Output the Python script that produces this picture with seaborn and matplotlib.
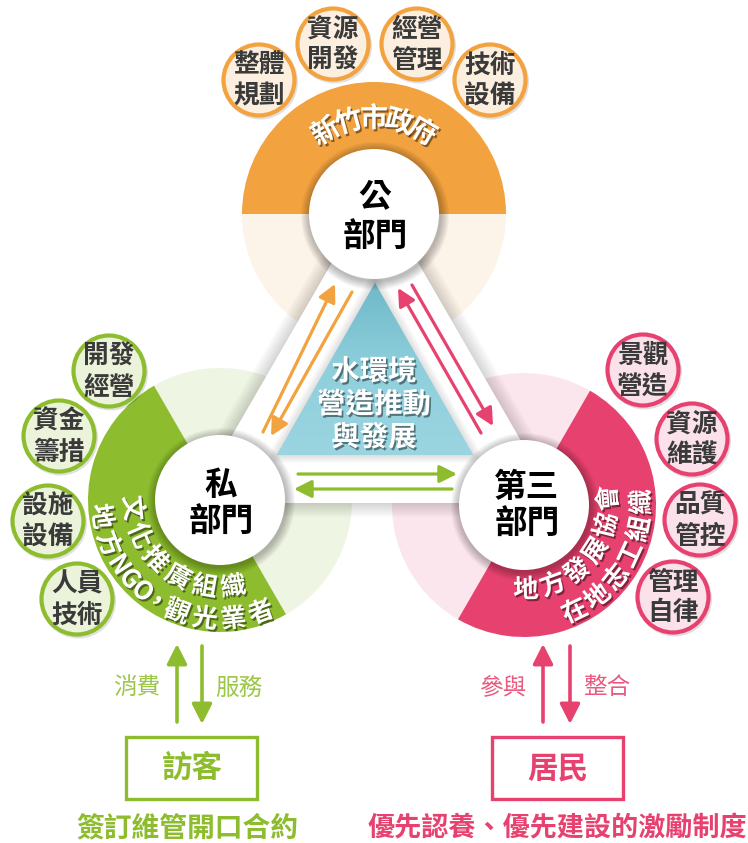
import matplotlib
matplotlib.use("Agg")
import matplotlib.pyplot as plt
import matplotlib.patheffects as pe
from matplotlib.patches import Circle, Wedge, Polygon, Rectangle
from matplotlib.colors import LinearSegmentedColormap
import numpy as np
import seaborn as sns

# ---- chart content ----
hub_lines = [["公", "部門"], ["私", "部門"], ["第三", "部門"]]
ring_labels = [["新竹市政府"],
               ["文化推廣組織", "地方NGO，觀光業者"],
               ["地方發展協會", "在地志工組織"]]
public_tasks = ["整體\n規劃", "資源\n開發", "經營\n管理", "技術\n設備"]
private_tasks = ["開發\n經營", "資金\n籌措", "設施\n設備", "人員\n技術"]
third_tasks = ["景觀\n營造", "資源\n維護", "品質\n管控", "管理\n自律"]
core_label = ["水環境", "營造推動", "與發展"]
visitor_flow = ["消費", "服務"]
resident_flow = ["參與", "整合"]
partners = ["訪客", "居民"]
partner_notes = ["簽訂維管開口合約", "優先認養、優先建設的激勵制度"]

sns.set_theme(style="white")
plt.rcParams["font.family"] = ["Noto Sans CJK TC", "DejaVu Sans"]

colors = sns.color_palette(["#f2a23e", "#8dbd2e", "#e7426f"])
pales = ["#fcf3e9", "#eff5e3", "#fce6ee"]
chip_fill = ["#fcefdf", "#ebf3da", "#fbe2ea"]
soft = ["#f5b86a", "#9cc64a", "#ea5a80"]
ink = "#3a3a3a"

fig = plt.figure(figsize=(7.48, 8.43), dpi=100)
ax = fig.add_axes([0, 0, 1, 1])

hubs = [(374, 214), (220, 500), (524, 505)]
starts = [0, 120, 240]
R_IN, R_OUT = 65, 132


def pt(c, r, a):
    return c[0] + r * np.cos(np.radians(a)), c[1] - r * np.sin(np.radians(a))


def wedge(c, r, a1, a2, **kw):
    # screen angles (ccw) -> data angles, y axis is flipped
    return Wedge(c, r, -a2, -a1, **kw)


shadow = [pe.withSimplePatchShadow(offset=(1.2, -1.5), shadow_rgbFace="black", alpha=0.45)]


def arc_text(c, text, r, a0, a1, inward, size):
    w = np.array([0.62 if ord(ch) < 128 else (0.6 if ch == "，" else 1.0) for ch in text])
    pos = np.cumsum(w) - w / 2
    for ch, p in zip(text, pos):
        a = a0 + (a1 - a0) * p / w.sum()
        x, y = pt(c, r, a)
        rot = a + 90 if inward else a - 90
        ax.text(x, y, ch, rotation=rot, rotation_mode="anchor", ha="center", va="center",
                fontsize=size, fontweight="bold", color="white", zorder=9, path_effects=shadow)


def arrow(tail, head, col, lw=2.3, ms=14):
    ax.annotate("", xy=head, xytext=tail, zorder=6,
                arrowprops=dict(arrowstyle="-|>,head_length=0.75,head_width=0.38", lw=lw,
                                color=col, shrinkA=0, shrinkB=0, mutation_scale=ms))


# rings: coloured half + pale half
for c, s, col, pale in zip(hubs, starts, colors, pales):
    ax.add_patch(wedge(c, R_OUT, s + 180, s + 360, fc=pale, ec="none", zorder=1))
    ax.add_patch(wedge(c, R_OUT, s, s + 180, fc=col, ec="none", zorder=1))

# white frame triangle with soft shadow
outer = [(375, 188), (193, 503), (557, 503)]
for w in range(2, 22, 3):
    ax.add_patch(Polygon(outer, closed=True, fc="none", ec="black", lw=w, alpha=0.025,
                         joinstyle="round", zorder=2))
ax.add_patch(Polygon(outer, closed=True, fc="white", ec="none", zorder=3))

# teal core triangle with gradient
inner = [(375, 283), (277, 455), (473, 455)]
for w in range(2, 12, 3):
    ax.add_patch(Polygon(inner, closed=True, fc="none", ec="black", lw=w, alpha=0.03,
                         joinstyle="round", zorder=3.5))
tri = Polygon(inner, closed=True, fc="#8ecfdc", ec="none", zorder=4)
ax.add_patch(tri)
teal = LinearSegmentedColormap.from_list("teal", ["#6fb9c9", "#8fcfdc", "#9ad5e1"])
im = ax.imshow(np.linspace(0, 1, 200).reshape(-1, 1), extent=(277, 473, 455, 283),
               origin="upper", cmap=teal, aspect="auto", zorder=4.5)
im.set_clip_path(tri)
for i, line in enumerate(core_label):
    ax.text(374, 372 + i * 33, line, ha="center", va="center", fontsize=20.5,
            fontweight="bold", color="white", zorder=9, path_effects=shadow)

# flows between sectors
arrow((263, 432), (335, 284), colors[0])
arrow((352, 292), (271, 436), colors[0])
arrow((481, 433), (398, 288), colors[2])
arrow((412, 285), (493, 426), colors[2])
arrow((298, 474), (457, 474), colors[1])
arrow((452, 489), (294, 489), colors[1])

# hub circles
for c, lines in zip(hubs, hub_lines):
    for k in range(1, 10):
        ax.add_patch(Circle((c[0] + 1, c[1] + 2), R_IN + k, fc="black", ec="none",
                            alpha=0.03, zorder=7))
    ax.add_patch(Circle(c, R_IN, fc="white", ec="none", zorder=8))
hub_text_y = [(197, 237), (485, 522), (488, 524)]
hub_text_x = [375, 221, 527]
for lines, x, ys in zip(hub_lines, hub_text_x, hub_text_y):
    for line, y in zip(lines, ys):
        ax.text(x, y, line, ha="center", va="center", fontsize=23.5,
                fontweight="bold", color="black", zorder=9)

# curved ring captions
arc_text(hubs[0], ring_labels[0][0], 95, 128, 52, False, 20)
arc_text(hubs[1], ring_labels[1][0], 88, 176, 288, True, 18.5)
arc_text(hubs[1], ring_labels[1][1], 120, 181, 297, True, 18.5)
arc_text(hubs[2], ring_labels[2][0], 85, 262, 374, True, 18.5)
arc_text(hubs[2], ring_labels[2][1], 118, 289, 368, True, 18.5)

# task chips
chip_pos = [[(259, 80), (333, 44), (417, 44), (490, 80)],
            [(109, 371), (59, 436), (48, 521), (77, 599)],
            [(643, 370), (692, 439), (700, 520), (673, 597)]]
for tasks, poss, col, fill in zip([public_tasks, private_tasks, third_tasks], chip_pos, colors, chip_fill):
    for t, (x, y) in zip(tasks, poss):
        ax.add_patch(Circle((x + 1.5, y + 2), 37.5, fc="black", ec="none", alpha=0.12, zorder=5))
        ax.add_patch(Circle((x, y), 35.5, fc=fill, ec=col, lw=3, zorder=6))
        top, bot = t.split("\n")
        ax.text(x, y - 15, top, ha="center", va="center", fontsize=18.5, fontweight="bold",
                color=ink, zorder=7)
        ax.text(x, y + 16, bot, ha="center", va="center", fontsize=18.5, fontweight="bold",
                color=ink, zorder=7)

# stakeholders at the bottom
bottom = [(191, 177, 202, colors[1], soft[1], visitor_flow, 187, 20),
          (557, 543, 570, colors[2], soft[2], resident_flow, 557, 19.5)]
for (cx, xu, xd, col, lcol, flow, nx, nsize), who, note in zip(bottom, partners, partner_notes):
    arrow((xu, 722), (xu, 644), col, lw=2.6, ms=16)
    arrow((xd, 646), (xd, 724), col, lw=2.6, ms=16)
    ax.text(xu - 40, 688, flow[0], ha="center", va="center", fontsize=17, color=lcol)
    ax.text(xd + 37, 688, flow[1], ha="center", va="center", fontsize=17, color=lcol)
    ax.add_patch(Rectangle((cx - 65, 737), 131, 62, fc="white", ec=col, lw=2.4))
    ax.text(cx + 1, 768, who, ha="center", va="center", fontsize=22, fontweight="bold", color=col)
    ax.text(nx, 828, note, ha="center", va="center", fontsize=nsize, fontweight="bold", color=col)

ax.set_xlim(0, 748)
ax.set_ylim(843, 0)
ax.axis("off")
fig.savefig("out.png", dpi=100)
